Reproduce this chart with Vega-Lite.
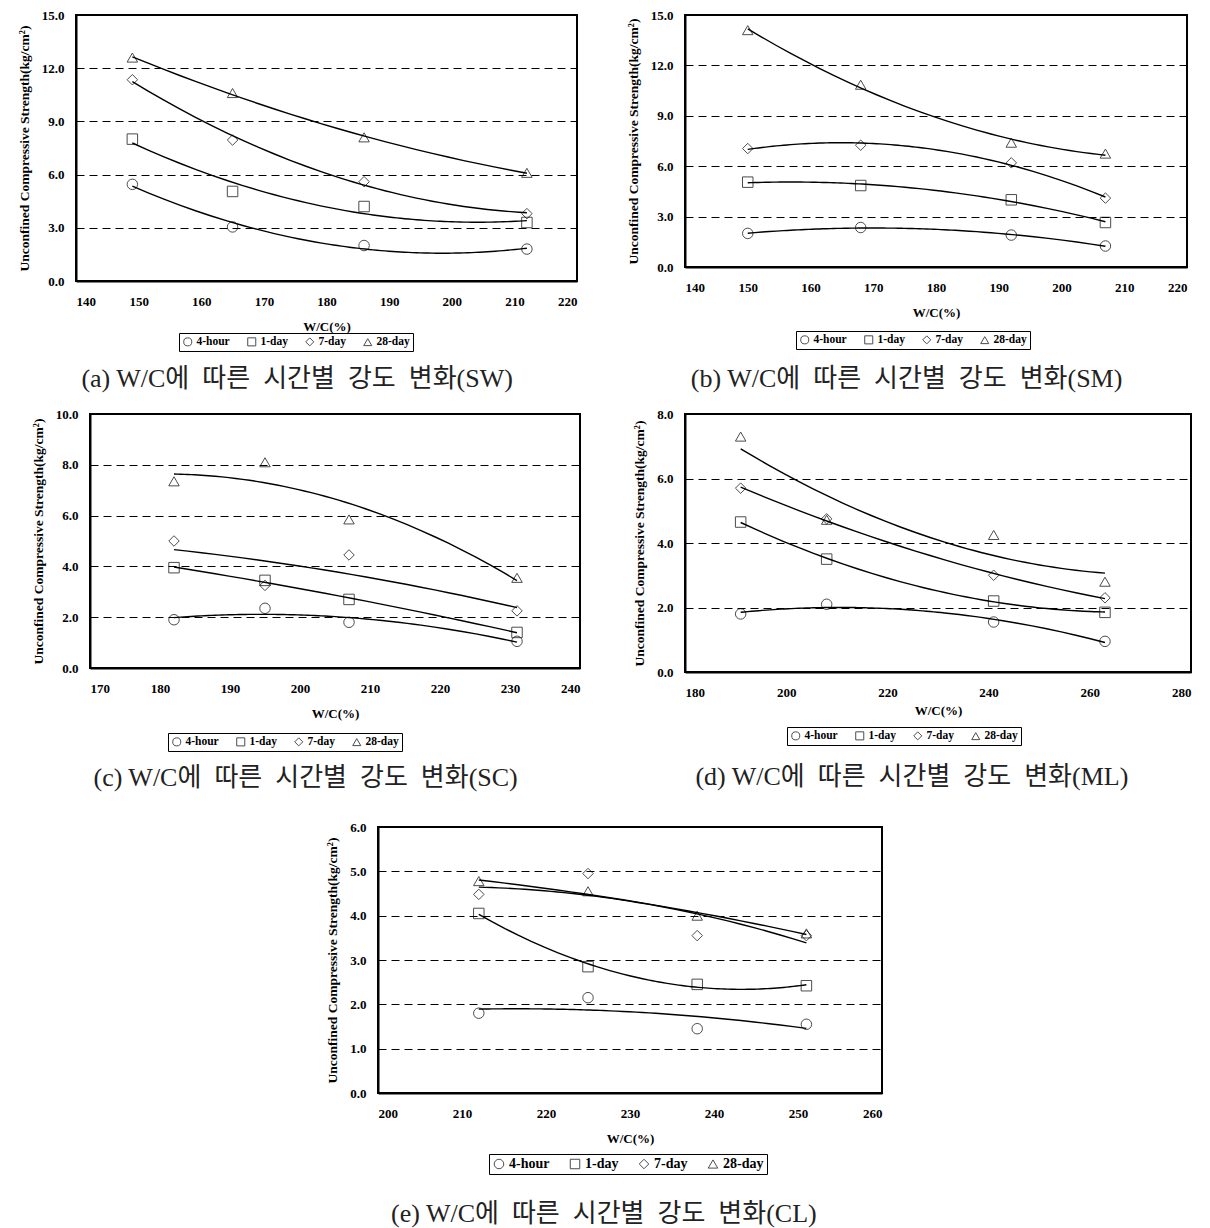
{
  "$schema": "https://vega.github.io/schema/vega-lite/v6.json",
  "padding": {"top": 8, "left": 0, "right": 0, "bottom": 0},
  "background": "white",
  "data": {"values": [
    {"panel": "a", "age": "4-hour", "wc": 149, "strength": 5.45},
    {"panel": "a", "age": "4-hour", "wc": 165, "strength": 3.05},
    {"panel": "a", "age": "4-hour", "wc": 186, "strength": 2.0},
    {"panel": "a", "age": "4-hour", "wc": 212, "strength": 1.8},
    {"panel": "a", "age": "1-day", "wc": 149, "strength": 8.0},
    {"panel": "a", "age": "1-day", "wc": 165, "strength": 5.05},
    {"panel": "a", "age": "1-day", "wc": 186, "strength": 4.2},
    {"panel": "a", "age": "1-day", "wc": 212, "strength": 3.3},
    {"panel": "a", "age": "7-day", "wc": 149, "strength": 11.35},
    {"panel": "a", "age": "7-day", "wc": 165, "strength": 7.95},
    {"panel": "a", "age": "7-day", "wc": 186, "strength": 5.6},
    {"panel": "a", "age": "7-day", "wc": 212, "strength": 3.8},
    {"panel": "a", "age": "28-day", "wc": 149, "strength": 12.6},
    {"panel": "a", "age": "28-day", "wc": 165, "strength": 10.6},
    {"panel": "a", "age": "28-day", "wc": 186, "strength": 8.1},
    {"panel": "a", "age": "28-day", "wc": 212, "strength": 6.1},
    {"panel": "b", "age": "4-hour", "wc": 150, "strength": 2.0},
    {"panel": "b", "age": "4-hour", "wc": 168, "strength": 2.35},
    {"panel": "b", "age": "4-hour", "wc": 192, "strength": 1.9},
    {"panel": "b", "age": "4-hour", "wc": 207, "strength": 1.25},
    {"panel": "b", "age": "1-day", "wc": 150, "strength": 5.05},
    {"panel": "b", "age": "1-day", "wc": 168, "strength": 4.85},
    {"panel": "b", "age": "1-day", "wc": 192, "strength": 4.0},
    {"panel": "b", "age": "1-day", "wc": 207, "strength": 2.65},
    {"panel": "b", "age": "7-day", "wc": 150, "strength": 7.05},
    {"panel": "b", "age": "7-day", "wc": 168, "strength": 7.25},
    {"panel": "b", "age": "7-day", "wc": 192, "strength": 6.2},
    {"panel": "b", "age": "7-day", "wc": 207, "strength": 4.1},
    {"panel": "b", "age": "28-day", "wc": 150, "strength": 14.1},
    {"panel": "b", "age": "28-day", "wc": 168, "strength": 10.85},
    {"panel": "b", "age": "28-day", "wc": 192, "strength": 7.4},
    {"panel": "b", "age": "28-day", "wc": 207, "strength": 6.75},
    {"panel": "c", "age": "4-hour", "wc": 182, "strength": 1.9},
    {"panel": "c", "age": "4-hour", "wc": 195, "strength": 2.35},
    {"panel": "c", "age": "4-hour", "wc": 207, "strength": 1.8},
    {"panel": "c", "age": "4-hour", "wc": 231, "strength": 1.05},
    {"panel": "c", "age": "1-day", "wc": 182, "strength": 3.95},
    {"panel": "c", "age": "1-day", "wc": 195, "strength": 3.45},
    {"panel": "c", "age": "1-day", "wc": 207, "strength": 2.7},
    {"panel": "c", "age": "1-day", "wc": 231, "strength": 1.4},
    {"panel": "c", "age": "7-day", "wc": 182, "strength": 5.0},
    {"panel": "c", "age": "7-day", "wc": 195, "strength": 3.25},
    {"panel": "c", "age": "7-day", "wc": 207, "strength": 4.45},
    {"panel": "c", "age": "7-day", "wc": 231, "strength": 2.25},
    {"panel": "c", "age": "28-day", "wc": 182, "strength": 7.35},
    {"panel": "c", "age": "28-day", "wc": 195, "strength": 8.1},
    {"panel": "c", "age": "28-day", "wc": 207, "strength": 5.85},
    {"panel": "c", "age": "28-day", "wc": 231, "strength": 3.55},
    {"panel": "d", "age": "4-hour", "wc": 191, "strength": 1.8},
    {"panel": "d", "age": "4-hour", "wc": 208, "strength": 2.1},
    {"panel": "d", "age": "4-hour", "wc": 241, "strength": 1.55},
    {"panel": "d", "age": "4-hour", "wc": 263, "strength": 0.95},
    {"panel": "d", "age": "1-day", "wc": 191, "strength": 4.65},
    {"panel": "d", "age": "1-day", "wc": 208, "strength": 3.5},
    {"panel": "d", "age": "1-day", "wc": 241, "strength": 2.2},
    {"panel": "d", "age": "1-day", "wc": 263, "strength": 1.85},
    {"panel": "d", "age": "7-day", "wc": 191, "strength": 5.7},
    {"panel": "d", "age": "7-day", "wc": 208, "strength": 4.75},
    {"panel": "d", "age": "7-day", "wc": 241, "strength": 3.0},
    {"panel": "d", "age": "7-day", "wc": 263, "strength": 2.3},
    {"panel": "d", "age": "28-day", "wc": 191, "strength": 7.3},
    {"panel": "d", "age": "28-day", "wc": 208, "strength": 4.72},
    {"panel": "d", "age": "28-day", "wc": 241, "strength": 4.25},
    {"panel": "d", "age": "28-day", "wc": 263, "strength": 2.8},
    {"panel": "e", "age": "4-hour", "wc": 212, "strength": 1.8},
    {"panel": "e", "age": "4-hour", "wc": 225, "strength": 2.15},
    {"panel": "e", "age": "4-hour", "wc": 238, "strength": 1.45},
    {"panel": "e", "age": "4-hour", "wc": 251, "strength": 1.55},
    {"panel": "e", "age": "1-day", "wc": 212, "strength": 4.05},
    {"panel": "e", "age": "1-day", "wc": 225, "strength": 2.85},
    {"panel": "e", "age": "1-day", "wc": 238, "strength": 2.45},
    {"panel": "e", "age": "1-day", "wc": 251, "strength": 2.42},
    {"panel": "e", "age": "7-day", "wc": 212, "strength": 4.48},
    {"panel": "e", "age": "7-day", "wc": 225, "strength": 4.95},
    {"panel": "e", "age": "7-day", "wc": 238, "strength": 3.55},
    {"panel": "e", "age": "7-day", "wc": 251, "strength": 3.55},
    {"panel": "e", "age": "28-day", "wc": 212, "strength": 4.78},
    {"panel": "e", "age": "28-day", "wc": 225, "strength": 4.55},
    {"panel": "e", "age": "28-day", "wc": 238, "strength": 4.0},
    {"panel": "e", "age": "28-day", "wc": 251, "strength": 3.6}
  ]},
  "config": {
    "view": {"stroke": "black", "strokeWidth": 2},
    "axis": {"labelFont": "Liberation Serif", "labelFontWeight": "bold", "labelFontSize": 13, "labelColor": "black",
             "titleFont": "Liberation Serif", "titleFontWeight": "bold", "titleFontSize": 13, "titleColor": "black",
             "domainColor": "black", "domainWidth": 2, "ticks": false},
    "axisY": {"grid": true, "gridColor": "black", "gridDash": [8, 5], "gridWidth": 1, "labelPadding": 12, "titlePadding": 10, "titleFontSize": 13.5},
    "axisX": {"grid": false, "labelPadding": 14, "titlePadding": 12},
    "legend": {"orient": "none", "direction": "horizontal", "labelFont": "Liberation Serif", "labelFontWeight": "bold",
               "labelFontSize": 11.5, "labelColor": "black", "strokeColor": "black", "padding": 3, "columnPadding": 15,
               "labelOffset": 3, "symbolSize": 65, "symbolStrokeColor": "black", "symbolStrokeWidth": 1, "cornerRadius": 0},
    "title": {"font": "Liberation Serif, Noto Sans CJK KR", "fontSize": 26, "fontWeight": "normal", "color": "#222",
              "orient": "bottom", "anchor": "middle", "frame": "bounds"}
  },
  "resolve": {"scale": {"shape": "independent"}, "legend": {"shape": "independent"}},
  "spacing": 28,
  "vconcat": [
    {
      "spacing": 14,
      "resolve": {"scale": {"shape": "independent"}, "legend": {"shape": "independent"}},
      "vconcat": [
        {
          "spacing": 0,
          "resolve": {"scale": {"shape": "independent"}, "legend": {"shape": "independent"}},
          "hconcat": [
            {"width": 16, "height": 10, "view": {"stroke": null}, "data": {"values": []}, "mark": "point"},
            {
              "spacing": 47,
              "resolve": {"scale": {"shape": "independent"}, "legend": {"shape": "independent"}},
              "hconcat": [
                {
                  "width": 501, "height": 266,
                  "title": {"text": "(a) W/C에 \u00a0따른 \u00a0시간별 \u00a0강도 \u00a0변화(SW)", "offset": 14},
                  "transform": [{"filter": "datum.panel === 'a'"}],
                  "layer": [
                    {"mark": {"type": "point", "filled": false, "color": "black", "size": 110, "strokeWidth": 1},
                     "encoding": {
                       "x": {"field": "wc", "type": "quantitative", "scale": {"domain": [140, 220], "nice": false, "zero": false},
                             "axis": {"values": [140, 150, 160, 170, 180, 190, 200, 210, 220], "title": "W/C(%)"}},
                       "y": {"field": "strength", "type": "quantitative", "scale": {"domain": [0, 15], "nice": false},
                             "axis": {"values": [0, 3, 6, 9, 12, 15], "format": ".1f", "title": "Unconfined Compressive Strength(kg/cm²)"}},
                       "shape": {"field": "age", "type": "nominal",
                                 "scale": {"domain": ["4-hour", "1-day", "7-day", "28-day"], "range": ["circle", "square", "diamond", "triangle-up"]},
                                 "legend": {"title": null, "legendX": 103, "legendY": 318}}
                     }},
                    {"transform": [{"regression": "strength", "on": "wc", "groupby": ["age"], "method": "poly", "order": 2}],
                     "mark": {"type": "line", "color": "black", "strokeWidth": 1.4},
                     "encoding": {"x": {"field": "wc", "type": "quantitative"}, "y": {"field": "strength", "type": "quantitative"}, "detail": {"field": "age"}}}
                  ]
                },
                {
                  "width": 502, "height": 252,
                  "title": {"text": "(b) W/C에 \u00a0따른 \u00a0시간별 \u00a0강도 \u00a0변화(SM)", "offset": 16},
                  "transform": [{"filter": "datum.panel === 'b'"}],
                  "layer": [
                    {"mark": {"type": "point", "filled": false, "color": "black", "size": 110, "strokeWidth": 1},
                     "encoding": {
                       "x": {"field": "wc", "type": "quantitative", "scale": {"domain": [140, 220], "nice": false, "zero": false},
                             "axis": {"values": [140, 150, 160, 170, 180, 190, 200, 210, 220], "title": "W/C(%)"}},
                       "y": {"field": "strength", "type": "quantitative", "scale": {"domain": [0, 15], "nice": false},
                             "axis": {"values": [0, 3, 6, 9, 12, 15], "format": ".1f", "title": "Unconfined Compressive Strength(kg/cm²)"}},
                       "shape": {"field": "age", "type": "nominal",
                                 "scale": {"domain": ["4-hour", "1-day", "7-day", "28-day"], "range": ["circle", "square", "diamond", "triangle-up"]},
                                 "legend": {"title": null, "legendX": 111, "legendY": 316}}
                     }},
                    {"transform": [{"regression": "strength", "on": "wc", "groupby": ["age"], "method": "poly", "order": 2}],
                     "mark": {"type": "line", "color": "black", "strokeWidth": 1.4},
                     "encoding": {"x": {"field": "wc", "type": "quantitative"}, "y": {"field": "strength", "type": "quantitative"}, "detail": {"field": "age"}}}
                  ]
                }
              ]
            }
          ]
        },
        {
          "spacing": 0,
          "resolve": {"scale": {"shape": "independent"}, "legend": {"shape": "independent"}},
          "hconcat": [
            {"width": 30, "height": 10, "view": {"stroke": null}, "data": {"values": []}, "mark": "point"},
            {
              "spacing": 50,
              "resolve": {"scale": {"shape": "independent"}, "legend": {"shape": "independent"}},
              "hconcat": [
                {
                  "width": 490, "height": 254,
                  "title": {"text": "(c) W/C에 \u00a0따른 \u00a0시간별 \u00a0강도 \u00a0변화(SC)", "offset": 13},
                  "transform": [{"filter": "datum.panel === 'c'"}],
                  "layer": [
                    {"mark": {"type": "point", "filled": false, "color": "black", "size": 110, "strokeWidth": 1},
                     "encoding": {
                       "x": {"field": "wc", "type": "quantitative", "scale": {"domain": [170, 240], "nice": false, "zero": false},
                             "axis": {"values": [170, 180, 190, 200, 210, 220, 230, 240], "title": "W/C(%)"}},
                       "y": {"field": "strength", "type": "quantitative", "scale": {"domain": [0, 10], "nice": false},
                             "axis": {"values": [0, 2, 4, 6, 8, 10], "format": ".1f", "title": "Unconfined Compressive Strength(kg/cm²)"}},
                       "shape": {"field": "age", "type": "nominal",
                                 "scale": {"domain": ["4-hour", "1-day", "7-day", "28-day"], "range": ["circle", "square", "diamond", "triangle-up"]},
                                 "legend": {"title": null, "legendX": 78, "legendY": 319}}
                     }},
                    {"transform": [{"regression": "strength", "on": "wc", "groupby": ["age"], "method": "poly", "order": 2}],
                     "mark": {"type": "line", "color": "black", "strokeWidth": 1.4},
                     "encoding": {"x": {"field": "wc", "type": "quantitative"}, "y": {"field": "strength", "type": "quantitative"}, "detail": {"field": "age"}}}
                  ]
                },
                {
                  "width": 506, "height": 258,
                  "title": {"text": "(d) W/C에 \u00a0따른 \u00a0시간별 \u00a0강도 \u00a0변화(ML)", "offset": 18},
                  "transform": [{"filter": "datum.panel === 'd'"}],
                  "layer": [
                    {"mark": {"type": "point", "filled": false, "color": "black", "size": 110, "strokeWidth": 1},
                     "encoding": {
                       "x": {"field": "wc", "type": "quantitative", "scale": {"domain": [180, 280], "nice": false, "zero": false},
                             "axis": {"values": [180, 200, 220, 240, 260, 280], "title": "W/C(%)", "titlePadding": 5}},
                       "y": {"field": "strength", "type": "quantitative", "scale": {"domain": [0, 8], "nice": false},
                             "axis": {"values": [0, 2, 4, 6, 8], "format": ".1f", "title": "Unconfined Compressive Strength(kg/cm²)"}},
                       "shape": {"field": "age", "type": "nominal",
                                 "scale": {"domain": ["4-hour", "1-day", "7-day", "28-day"], "range": ["circle", "square", "diamond", "triangle-up"]},
                                 "legend": {"title": null, "legendX": 102, "legendY": 313}}
                     }},
                    {"transform": [{"regression": "strength", "on": "wc", "groupby": ["age"], "method": "poly", "order": 2}],
                     "mark": {"type": "line", "color": "black", "strokeWidth": 1.4},
                     "encoding": {"x": {"field": "wc", "type": "quantitative"}, "y": {"field": "strength", "type": "quantitative"}, "detail": {"field": "age"}}}
                  ]
                }
              ]
            }
          ]
        }
      ]
    },
    {
      "spacing": 0,
      "resolve": {"scale": {"shape": "independent"}, "legend": {"shape": "independent"}},
      "hconcat": [
        {"width": 324, "height": 10, "view": {"stroke": null}, "data": {"values": []}, "mark": "point"},
        {
          "width": 504, "height": 266,
          "title": {"text": "(e) W/C에 \u00a0따른 \u00a0시간별 \u00a0강도 \u00a0변화(CL)", "offset": 26},
          "transform": [{"filter": "datum.panel === 'e'"}],
          "layer": [
            {"mark": {"type": "point", "filled": false, "color": "black", "size": 110, "strokeWidth": 1},
             "encoding": {
               "x": {"field": "wc", "type": "quantitative", "scale": {"domain": [200, 260], "nice": false, "zero": false},
                     "axis": {"values": [200, 210, 220, 230, 240, 250, 260], "title": "W/C(%)"}},
               "y": {"field": "strength", "type": "quantitative", "scale": {"domain": [0, 6], "nice": false},
                     "axis": {"values": [0, 1, 2, 3, 4, 5, 6], "format": ".1f", "title": "Unconfined Compressive Strength(kg/cm²)"}},
               "shape": {"field": "age", "type": "nominal",
                         "scale": {"domain": ["4-hour", "1-day", "7-day", "28-day"], "range": ["circle", "square", "diamond", "triangle-up"]},
                         "legend": {"title": null, "legendX": 111, "legendY": 327, "labelFontSize": 14, "symbolSize": 90, "columnPadding": 18}}
             }},
            {"transform": [{"regression": "strength", "on": "wc", "groupby": ["age"], "method": "poly", "order": 2}],
             "mark": {"type": "line", "color": "black", "strokeWidth": 1.4},
             "encoding": {"x": {"field": "wc", "type": "quantitative"}, "y": {"field": "strength", "type": "quantitative"}, "detail": {"field": "age"}}}
          ]
        }
      ]
    }
  ]
}
